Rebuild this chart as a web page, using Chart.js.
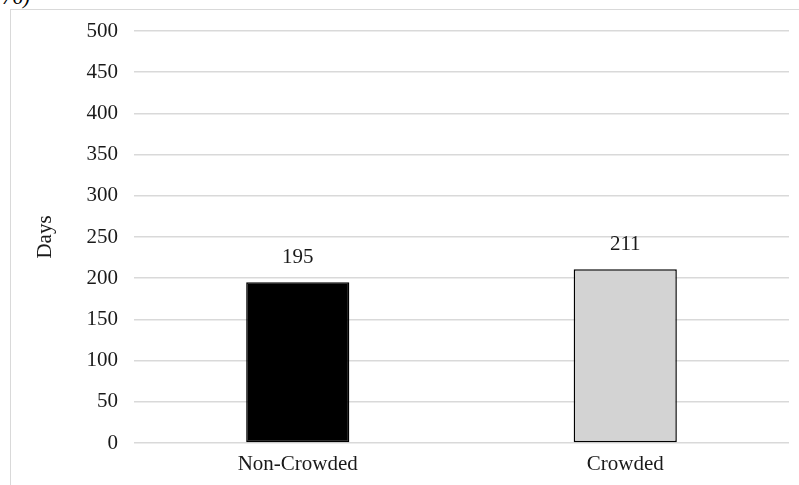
<!DOCTYPE html>
<html>
<head>
<meta charset="utf-8">
<script src="https://cdn.jsdelivr.net/npm/chart.js@4/dist/chart.umd.min.js"></script>
<style>
  html, body { margin: 0; padding: 0; background: #fff; }
  #wrap { position: relative; width: 799px; height: 485px; overflow: hidden; }
  #frame { position: absolute; left: 10px; top: 9px; width: 800px; height: 490px;
           border-left: 1.5px solid #d9d9d9; border-top: 1.5px solid #d9d9d9; }
  #cap { position: absolute; left: 2px; top: -15px; font: italic 21px "Liberation Serif", serif; color: #000; }
  canvas { position: absolute; left: 0; top: 0; }
</style>
</head>
<body>
<div id="wrap">
  <div id="cap">76)</div>
  <div id="frame"></div>
  <canvas id="c" width="799" height="485"></canvas>
</div>
<script>
const categories = ['Non-Crowded', 'Crowded'];
const days = [195, 211];
const barColors = ['#000000', '#d3d3d3'];
const yAxisTitle = 'Days';
const yMax = 500;
const yStep = 50;

const FONT = '"Liberation Serif", "Times New Roman", serif';

const valueLabels = {
  id: 'valueLabels',
  afterDatasetsDraw(chart) {
    const ctx = chart.ctx;
    const meta = chart.getDatasetMeta(0);
    ctx.save();
    ctx.font = '21px ' + FONT;
    ctx.fillStyle = '#1a1a1a';
    ctx.textAlign = 'center';
    ctx.textBaseline = 'middle';
    meta.data.forEach((bar, i) => {
      ctx.fillText(String(days[i]), bar.x, bar.y - 25);
    });
    ctx.restore();
  }
};

new Chart(document.getElementById('c'), {
  type: 'bar',
  data: {
    labels: categories,
    datasets: [{
      data: days,
      backgroundColor: barColors,
      borderColor: '#000000',
      borderWidth: 1.5,
      borderSkipped: false,
      categoryPercentage: 1.0,
      barPercentage: 0.315
    }]
  },
  options: {
    responsive: false,
    animation: false,
    devicePixelRatio: 1,
    layout: { padding: { left: 30, top: 31, right: 10, bottom: 0 } },
    plugins: { legend: { display: false }, tooltip: { enabled: false } },
    scales: {
      x: {
        grid: { display: false },
        border: { display: false },
        ticks: { color: '#1a1a1a', font: { family: FONT, size: 21 }, padding: 1 },
        afterFit(scale) { scale.height = 42; }
      },
      y: {
        min: 0,
        max: yMax,
        ticks: { stepSize: yStep, color: '#1a1a1a', font: { family: FONT, size: 21 }, padding: 16 },
        grid: { color: '#d9d9d9', lineWidth: 1.5, drawTicks: false },
        border: { display: false },
        title: { display: true, text: yAxisTitle, color: '#1a1a1a', font: { family: FONT, size: 21 }, padding: { top: 3, bottom: 0 } },
        afterFit(scale) { scale.width = 104; }
      }
    }
  },
  plugins: [valueLabels]
});
</script>
</body>
</html>
